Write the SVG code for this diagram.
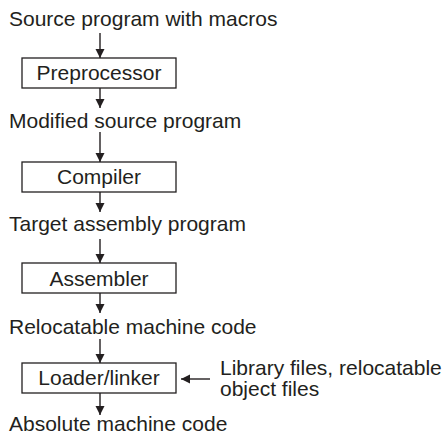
<svg xmlns="http://www.w3.org/2000/svg" width="446" height="440" viewBox="0 0 446 440">
<style>
text{font-family:"Liberation Sans",Arial,sans-serif;font-size:21px;fill:#231f20}
.box{fill:#fff;stroke:#231f20;stroke-width:1.3}
.c line{stroke:#231f20;stroke-width:1.4}
.mid{text-anchor:middle}
</style>
<defs>
<marker id="ah" viewBox="0 0 10 10" refX="10" refY="5" markerWidth="9" markerHeight="10" markerUnits="userSpaceOnUse" orient="auto">
<path d="M0,0 L10,5 L0,10 Z" fill="#231f20"/>
</marker>
</defs>
<rect width="446" height="440" fill="#fff"/>
<g id="label-source"><text x="9" y="26">Source program with macros</text></g>
<g id="preprocessor"><rect class="box" x="22" y="58" width="154" height="30"/><text class="mid" x="99" y="80">Preprocessor</text></g>
<g id="label-modified"><text x="9" y="128">Modified source program</text></g>
<g id="compiler"><rect class="box" x="22" y="162" width="154" height="30"/><text class="mid" x="99" y="184">Compiler</text></g>
<g id="label-target"><text x="9" y="231">Target assembly program</text></g>
<g id="assembler"><rect class="box" x="22" y="263" width="154" height="30"/><text class="mid" x="99" y="286">Assembler</text></g>
<g id="label-relocatable"><text x="9" y="334">Relocatable machine code</text></g>
<g id="loader"><rect class="box" x="22" y="363" width="154" height="30"/><text class="mid" x="99" y="385">Loader/linker</text></g>
<g id="label-library"><text x="220" y="375">Library files, relocatable</text><text x="220" y="396">object files</text></g>
<g id="label-absolute"><text x="9" y="431">Absolute machine code</text></g>
<g class="c" id="connectors">
<line x1="100" y1="33" x2="100" y2="58" marker-end="url(#ah)"/>
<line x1="100" y1="88" x2="100" y2="108" marker-end="url(#ah)"/>
<line x1="100" y1="132" x2="100" y2="162" marker-end="url(#ah)"/>
<line x1="100" y1="192" x2="100" y2="212" marker-end="url(#ah)"/>
<line x1="100" y1="239" x2="100" y2="263" marker-end="url(#ah)"/>
<line x1="100" y1="293" x2="100" y2="313" marker-end="url(#ah)"/>
<line x1="100" y1="339" x2="100" y2="363" marker-end="url(#ah)"/>
<line x1="100" y1="393" x2="100" y2="415" marker-end="url(#ah)"/>
<line x1="210" y1="379" x2="181" y2="379" marker-end="url(#ah)"/>
</g>
</svg>
